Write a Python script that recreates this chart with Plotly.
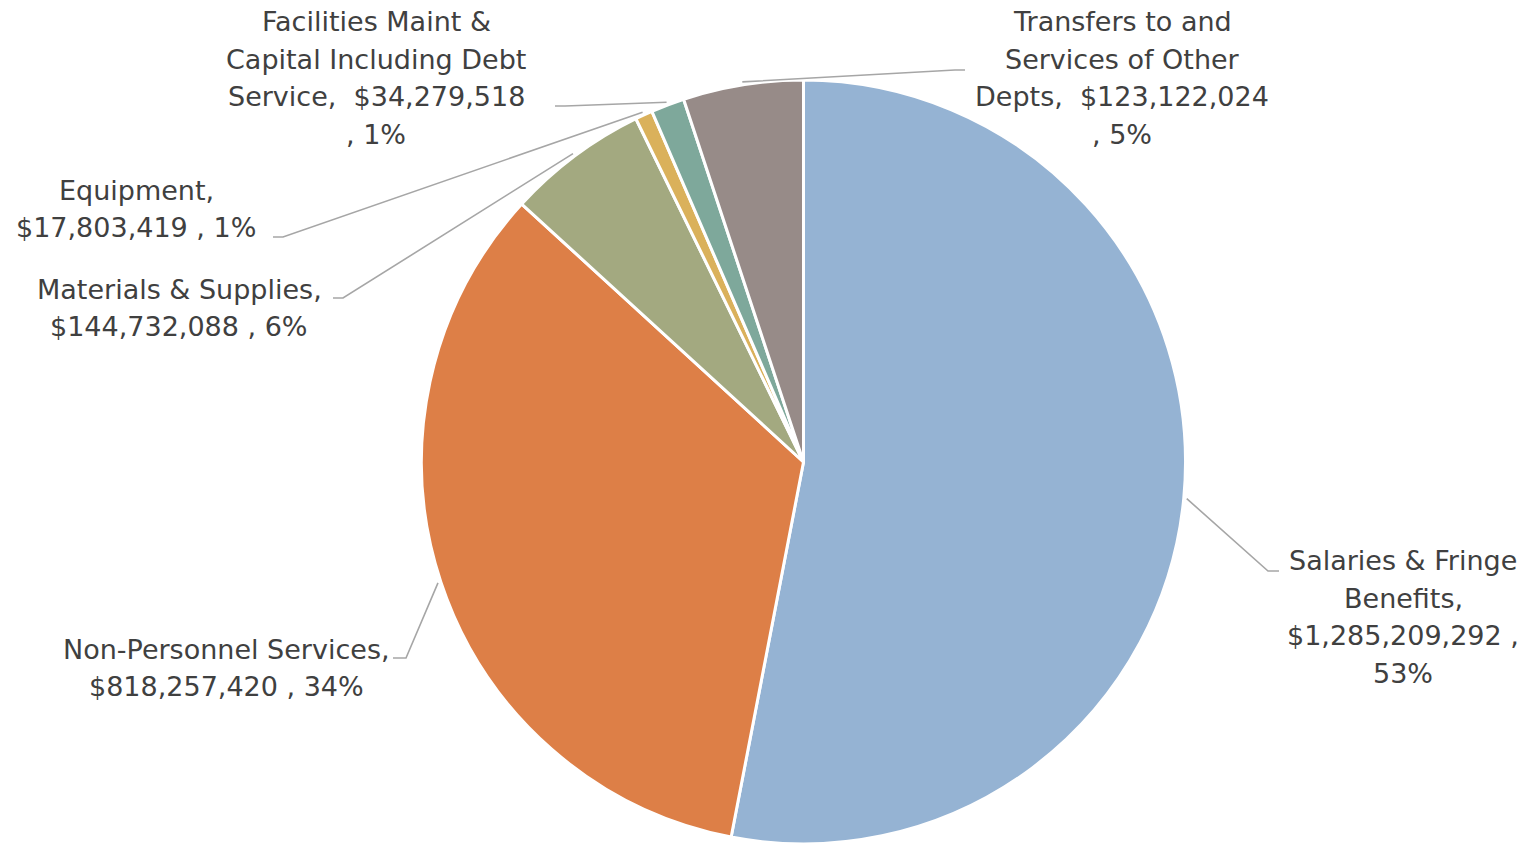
import math
import plotly.graph_objects as go

# spending by category (dollars), clockwise from 12 o'clock
categories = [
    "Salaries & Fringe Benefits",
    "Non-Personnel Services",
    "Materials & Supplies",
    "Equipment",
    "Facilities Maint & Capital Including Debt Service",
    "Transfers to and Services of Other Depts",
]
amounts = [1285209292, 818257420, 144732088, 17803419, 34279518, 123122024]
colors = ["#95B3D3", "#DD7F47", "#A3A980", "#DAB15B", "#7EA89B", "#978B88"]

# label wording with the line breaks used in the original
label_names = [
    "Salaries & Fringe<br>Benefits",
    "Non-Personnel Services",
    "Materials & Supplies",
    "Equipment",
    "Facilities Maint &<br>Capital Including Debt<br>Service",
    "Transfers to and<br>Services of Other<br>Depts",
]
sep_value = [",<br>", ",<br>", ",<br>", ",<br>", ",  ", ",  "]
sep_pct = [" ,<br>", " , ", " , ", " , ", "<br>, ", "<br>, "]

W, H = 1538, 844
PIE_CX, PIE_CY, PIE_R = 803.5, 462, 382
LINE_GAP = 37.7

# label centre, elbow of leader line, end of leader line (pixels)
label_pos = [(1403, 617), (226, 668), (179, 308), (136, 209), (376, 78), (1122, 78)]
elbow_pos = [(1268, 571), (406, 658), (343, 298), (283, 237), (565, 106), (955, 70)]
end_pos = [(1279, 571), (393, 658), (333, 298), (273, 237), (555, 106), (965, 70)]

FONT = dict(family="DejaVu Sans, sans-serif", size=27, color="#404040")
LINE = dict(color="#A6A6A6", width=1.6)

total = sum(amounts)

fig = go.Figure()
fig.add_trace(
    go.Pie(
        labels=categories,
        values=amounts,
        sort=False,
        direction="clockwise",
        rotation=0,
        marker=dict(colors=colors, line=dict(color="white", width=3)),
        textinfo="none",
        hoverinfo="label+value+percent",
        domain=dict(
            x=[(PIE_CX - PIE_R) / W, (PIE_CX + PIE_R) / W],
            y=[max(0, 1 - (PIE_CY + PIE_R) / H), min(1, 1 - (PIE_CY - PIE_R) / H)],
        ),
    )
)
# empty trace so the pixel-unit axes exist for shapes/annotations
fig.add_trace(go.Scatter(x=[], y=[], showlegend=False, hoverinfo="skip"))

cum = 0
for i, v in enumerate(amounts):
    mid = (cum + v / 2) / total
    cum += v
    ang = 2 * math.pi * mid
    sx = PIE_CX + (PIE_R + 3) * math.sin(ang)
    sy = PIE_CY - (PIE_R + 3) * math.cos(ang)
    ex, ey = elbow_pos[i]
    tx, ty = end_pos[i]
    fig.add_shape(
        type="path",
        path=f"M {sx},{sy} L {ex},{ey} L {tx},{ty}",
        xref="x", yref="y",
        line=LINE,
    )
    pct = round(v / total * 100)
    text = f"{label_names[i]}{sep_value[i]}${v:,}{sep_pct[i]}{pct}%"
    lines = text.split("<br>")
    lx, ly = label_pos[i]
    for k, line in enumerate(lines):
        fig.add_annotation(
            x=lx, y=ly + (k - (len(lines) - 1) / 2) * LINE_GAP,
            xref="x", yref="y",
            text=line, showarrow=False,
            xanchor="center", yanchor="middle", align="center",
            font=FONT,
        )

fig.update_layout(
    width=W, height=H,
    margin=dict(l=0, r=0, t=0, b=0),
    paper_bgcolor="white", plot_bgcolor="rgba(0,0,0,0)",
    showlegend=False,
    xaxis=dict(range=[0, W], visible=False, fixedrange=True),
    yaxis=dict(range=[H, 0], visible=False, fixedrange=True),
)

fig.write_html(
    "out.html",
    config={"displayModeBar": False},
    post_script="document.body.style.margin='0';",
)
